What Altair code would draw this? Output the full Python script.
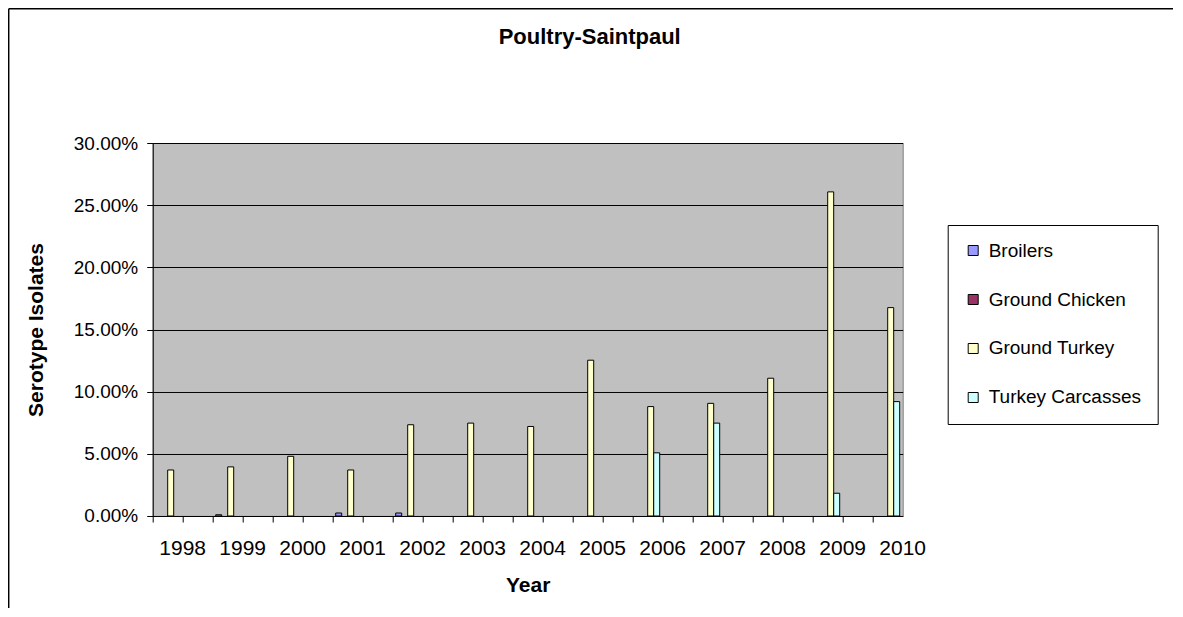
import altair as alt
import pandas as pd

years = [1998, 1999, 2000, 2001, 2002, 2003, 2004, 2005, 2006, 2007, 2008, 2009, 2010]
series = ["Broilers", "Ground Chicken", "Ground Turkey", "Turkey Carcasses"]
broilers = [0.0, 0.001, 0.0, 0.0024, 0.0024, 0.0, 0.0, 0.0, 0.0, 0.0, 0.0, 0.0, 0.0]
ground_chicken = [0.0, 0.0, 0.0, 0.0, 0.0, 0.0, 0.0, 0.0, 0.0, 0.0, 0.0, 0.0, 0.0]
ground_turkey = [0.037, 0.0395, 0.048, 0.037, 0.0734, 0.0747, 0.072, 0.1253, 0.088, 0.0906, 0.1108, 0.2607, 0.1676]
turkey_carcasses = [0.0, 0.0, 0.0, 0.0, 0.0, 0.0, 0.0, 0.0, 0.0508, 0.0747, 0.0, 0.0183, 0.092]
colors = ["#9999FF", "#993366", "#FFFFCC", "#CCFFFF"]
y_ticks = [0.0, 0.05, 0.10, 0.15, 0.20, 0.25, 0.30]

# category slots: each year followed by an empty slot (as in the source workbook)
slots = []
for i, yr in enumerate(years):
    slots.append(str(yr))
    if i < len(years) - 1:
        slots.append(f"{yr}_")

rows = []
for name, vals in zip(series, [broilers, ground_chicken, ground_turkey, turkey_carcasses]):
    for yr, v in zip(years, vals):
        rows.append({"Year": str(yr), "Series": name, "Value": v})
df = pd.DataFrame(rows)

FONT = "Liberation Sans"

bars = (
    alt.Chart(df)
    .transform_filter("datum.Value > 0")
    .mark_bar(stroke="black", strokeWidth=1, opacity=1)
    .encode(
        x=alt.X(
            "Year:N",
            sort=slots,
            scale=alt.Scale(domain=slots, paddingInner=0, paddingOuter=0),
            axis=alt.Axis(
                title="Year",
                bandPosition=0,
                labelOffset=15,
                labelExpr="indexof(datum.value, '_') >= 0 ? '' : datum.value",
                labelAngle=0,
                labelOverlap=False,
                labelBound=False,
                labelFlush=False,
                labelFontSize=21,
                labelPadding=16,
                tickSize=6,
                titleFontSize=21,
                titleFontWeight="bold",
                titleBaseline="alphabetic",
                titleX=375,
                titleY=76,
                grid=False,
            ),
        ),
        xOffset=alt.XOffset(
            "Series:N",
            scale=alt.Scale(domain=series, paddingInner=0, paddingOuter=0.5),
        ),
        y=alt.Y(
            "Value:Q",
            scale=alt.Scale(domain=[0, 0.3], nice=False, zero=True),
            axis=alt.Axis(
                title="Serotype Isolates",
                format=".2%",
                values=y_ticks,
                labelFontSize=19,
                labelPadding=9,
                tickSize=6,
                grid=True,
                gridColor="black",
                gridWidth=1,
                gridOpacity=1,
                titleFontSize=21,
                titleFontWeight="bold",
                titleX=-106,
                titleY=186.5,
                titleAlign="center",
            ),
        ),
        color=alt.Color(
            "Series:N",
            scale=alt.Scale(domain=series, range=colors),
            legend=alt.Legend(
                title=None,
                orient="none",
                legendX=795,
                legendY=82,
                direction="vertical",
                symbolType="square",
                symbolSize=100,
                symbolStrokeColor="black",
                symbolStrokeWidth=1,
                symbolOpacity=1,
                labelFontSize=19,
                labelOffset=6,
                rowPadding=29,
                padding=16,
                strokeColor="black",
                fillColor="white",
                labelColor="black",
                labelFont=FONT,
            ),
        ),
    )
)

one = pd.DataFrame({"k": [0]})
frame_top = (
    alt.Chart(one)
    .mark_rule(stroke="black", strokeWidth=1.5)
    .encode(x=alt.value(-144), x2=alt.value(1100), y=alt.value(-134.2))
)
frame_left = (
    alt.Chart(one)
    .mark_rule(stroke="black", strokeWidth=1.5)
    .encode(x=alt.value(-144), y=alt.value(-134.2), y2=alt.value(470))
)

chart = (
    alt.layer(frame_top, frame_left, bars)
    .properties(
        width=750,
        height=373,
        autosize=alt.AutoSizeParams(type="none"),
        padding={"left": 144.7, "top": 135, "right": 270, "bottom": 92},
        background="white",
        title=alt.TitleParams(
            text="Poultry-Saintpaul",
            fontSize=22,
            fontWeight="bold",
            font=FONT,
            color="black",
            anchor="middle",
            dx=62,
            offset=0,
            dy=58,
            baseline="alphabetic",
        ),
    )
    .configure(font=FONT)
    .configure_view(fill="#C0C0C0", stroke="#808080", strokeWidth=1)
    .configure_axis(
        domainColor="black",
        domainWidth=1,
        tickColor="black",
        labelColor="black",
        titleColor="black",
        labelFont=FONT,
        titleFont=FONT,
    )
)

chart.save("out.html", embed_options={"renderer": "svg", "actions": False})
